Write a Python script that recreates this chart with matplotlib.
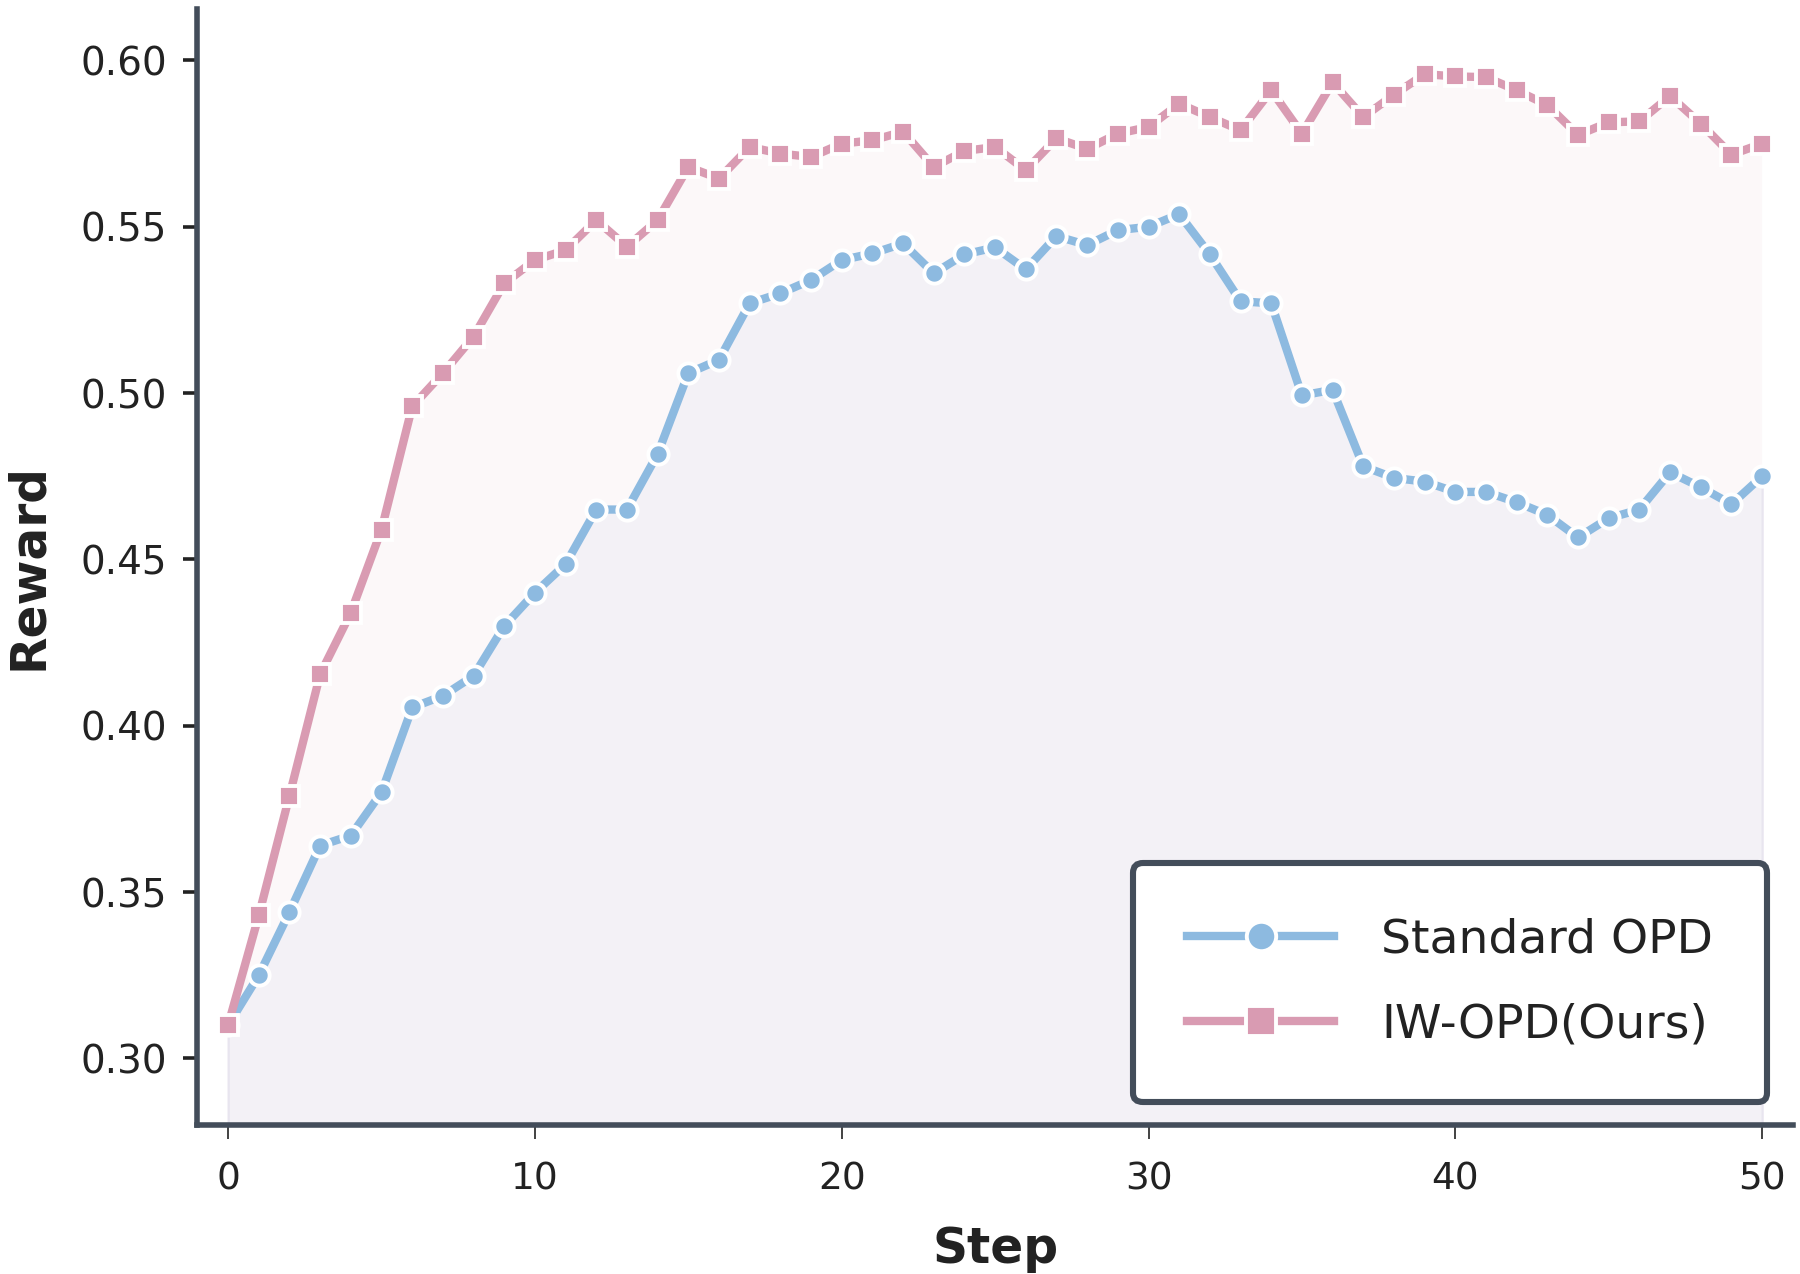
import matplotlib
matplotlib.use("Agg")
import matplotlib.pyplot as plt
import numpy as np

steps = list(range(51))
standard_opd = [0.310, 0.325, 0.344, 0.364, 0.367, 0.380, 0.4055, 0.409, 0.415, 0.430,
                0.440, 0.4486, 0.465, 0.465, 0.4817, 0.506, 0.510, 0.527, 0.530, 0.534,
                0.540, 0.542, 0.545, 0.536, 0.5417, 0.5438, 0.5372, 0.5472, 0.5445, 0.549,
                0.550, 0.5538, 0.5417, 0.5276, 0.527, 0.4993, 0.501, 0.478, 0.4745, 0.4734,
                0.4703, 0.4703, 0.4672, 0.4634, 0.4566, 0.4624, 0.465, 0.4762, 0.4717, 0.4666,
                0.475]
iw_opd = [0.310, 0.343, 0.379, 0.4155, 0.434, 0.459, 0.496, 0.506, 0.517, 0.533,
          0.540, 0.543, 0.552, 0.544, 0.552, 0.568, 0.5645, 0.574, 0.572, 0.571,
          0.575, 0.576, 0.5786, 0.568, 0.5728, 0.574, 0.567, 0.5766, 0.5734, 0.578,
          0.580, 0.587, 0.583, 0.579, 0.591, 0.578, 0.5934, 0.583, 0.5897, 0.5959,
          0.5952, 0.595, 0.591, 0.5866, 0.5776, 0.5814, 0.5817, 0.5893, 0.581, 0.5717,
          0.575]
series_names = ["Standard OPD", "IW-OPD(Ours)"]
yticks = [0.30, 0.35, 0.40, 0.45, 0.50, 0.55, 0.60]
xticks = [0, 10, 20, 30, 40, 50]

blue = "#8dbae0"
pink = "#d99bb2"
spine_c = "#434d5a"

plt.rcParams['font.family'] = ['DejaVu Sans']
fig = plt.figure(figsize=(9, 6.37), dpi=200)
ax = fig.add_axes([0.1097, 0.117, 0.8863, 0.876])

ymin, ymax = 0.28, 0.6155
x = np.array(steps)
b = np.array(standard_opd)
p = np.array(iw_opd)
ax.fill_between(x, ymin, b, color="#f3f1f6", edgecolor="#e8e5ef", linewidth=0.8, zorder=1)
ax.fill_between(x, b, p, color="#fcf8f9", edgecolor="none", linewidth=0, zorder=1)

ax.plot(x, b, color=blue, lw=3, marker='o', ms=7.3, mfc=blue, mec='white', mew=1.4,
        label=series_names[0], zorder=3)
ax.plot(x, p, color=pink, lw=3, marker='s', ms=7.3, mfc=pink, mec='white', mew=1.4,
        label=series_names[1], zorder=4)

ax.set_xlim(-1, 51)
ax.set_ylim(ymin, ymax)
ax.set_xticks(xticks)
ax.set_yticks(yticks)
ax.set_yticklabels([f"{v:.2f}" for v in yticks])
for s in ['top', 'right']:
    ax.spines[s].set_visible(False)
for s in ['left', 'bottom']:
    ax.spines[s].set_color(spine_c)
    ax.spines[s].set_linewidth(2.0)
ax.tick_params(axis='y', length=5, width=1.3, color='#222222', labelsize=14,
               labelcolor='#222222', pad=6)
ax.tick_params(axis='x', length=5, width=0.6, color='#222222', labelsize=13.5,
               labelcolor='#222222', pad=8)
ax.set_xlabel("Step", fontsize=17.5, fontweight='bold', color='#222222', labelpad=10)
ax.set_ylabel("Reward", fontsize=17.5, fontweight='bold', color='#222222', labelpad=10)

leg = ax.legend(loc='lower right', fontsize=17, markerscale=1.45, handlelength=3.1,
                borderpad=1.15, labelspacing=0.85, handletextpad=1.0,
                borderaxespad=0.0, frameon=True, fancybox=True, framealpha=1.0,
                bbox_to_anchor=(0.984, 0.0206))
frame = leg.get_frame()
frame.set_edgecolor(spine_c)
frame.set_linewidth(2.2)
frame.set_facecolor('white')
for t in leg.get_texts():
    t.set_color('#222222')

fig.savefig("out.png", dpi=200)
